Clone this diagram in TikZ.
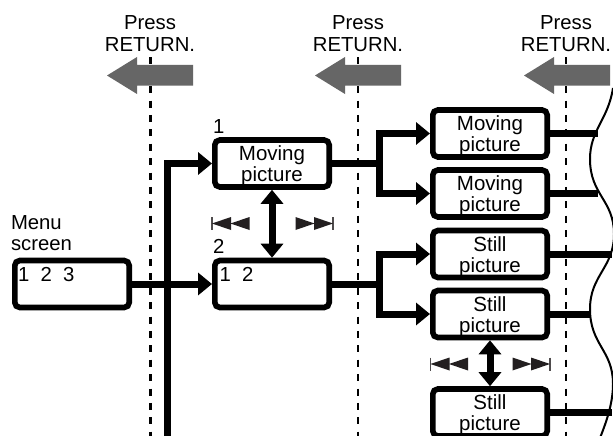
\documentclass[tikz,border=0pt]{standalone}
\usepackage{fontspec}
\setmainfont{Liberation Sans}
\usetikzlibrary{arrows.meta}
\definecolor{arrowgray}{HTML}{666666}
\definecolor{icondark}{HTML}{231F20}
\newcommand{\twolines}[2]{\rule{0pt}{20pt}#1\\[0.5pt]#2}
\tikzset{
  x=1pt,y=-1pt,
  txt/.style={font=\fontsize{20.3}{21.8}\selectfont,align=center,inner sep=0pt,outer sep=0pt},
  lbl/.style={font=\fontsize{20.3}{21.8}\selectfont,inner sep=0pt,outer sep=0pt,anchor=base west},
  screenbox/.style={draw=black,fill=white,line width=5.6pt,rounded corners=5pt,minimum width=114.4pt,minimum height=47pt,inner sep=0pt,font=\fontsize{20.5}{20.5}\selectfont,align=center},
  flow/.style={line width=7pt,-{Triangle[length=14pt,width=22pt]}},
  flowboth/.style={line width=7pt,{Triangle[length=14pt,width=22pt]}-{Triangle[length=14pt,width=22pt]}},
  plain/.style={line width=7pt},
  guide/.style={line width=2.6pt,dash pattern=on 7pt off 7.4pt},
  backarrow/.style={fill=arrowgray},
  wave/.style={line width=2pt},
  tri/.style={fill=icondark},
  iconbar/.style={draw=icondark!80,line width=1.2pt},
}
\newcommand{\backarrowat}[1]{%
  \fill[backarrow,shift={(#1,0)}] (107,75.5) -- (137,57) -- (137,65) -- (193,65) -- (193,85.5) -- (137,85.5) -- (137,94) -- cycle;}
\newcommand{\skipback}[2]{%
  \begin{scope}[shift={(#1,#2)}]
    \draw[iconbar] (0,-6.5) -- (0,6.5);
    \fill[tri] (0,0) -- (19,-6.5) -- (19,6.5) -- cycle;
    \fill[tri] (18.5,0) -- (37.5,-6.5) -- (37.5,6.5) -- cycle;
  \end{scope}}
\newcommand{\skipfwd}[2]{%
  \begin{scope}[shift={(#1,#2)}]
    \draw[iconbar] (0,-6.5) -- (0,6.5);
    \fill[tri] (0,0) -- (-19,-6.5) -- (-19,6.5) -- cycle;
    \fill[tri] (-18.5,0) -- (-37.5,-6.5) -- (-37.5,6.5) -- cycle;
  \end{scope}}
\begin{document}
\begin{tikzpicture}
\clip (0,0) rectangle (613,436);
\fill[white] (0,0) rectangle (613,436);

% dashed guides
\coordinate (g1t) at (150.5,57.3); \coordinate (g1b) at (150.5,440);
\coordinate (g2t) at (358,57.3);   \coordinate (g2b) at (358,440);
\coordinate (g3t) at (566,57.3);   \coordinate (g3b) at (566,440);
\draw[guide] (g1t) -- (g1b);
\draw[guide] (g2t) -- (g2b);
\draw[guide] (g3t) -- (g3b);

% grey arrows
\backarrowat{0}
\backarrowat{208}
\backarrowat{417}

% headings
\node[txt] (p1) at (150,33.3) {Press\\RETURN.};
\node[txt] (p2) at (358,33.3) {Press\\RETURN.};
\node[txt] (p3) at (566,33.3) {Press\\RETURN.};

% boxes
\node[screenbox] (menu) at (72,284) {};
\node[screenbox] (b1) at (272,163.5) {\twolines{Moving}{picture}};
\node[screenbox] (b2) at (272,284) {};
\node[screenbox] (m1) at (490,133.5) {\twolines{Moving}{picture}};
\node[screenbox] (m2) at (490,193.5) {\twolines{Moving}{picture}};
\node[screenbox] (s1) at (490,254) {\twolines{Still}{picture}};
\node[screenbox] (s2) at (490,314) {\twolines{Still}{picture}};
\node[screenbox] (s3) at (490,412.5) {\twolines{Still}{picture}};

% labels
\node[lbl] (menulabel) at (11,229) {Menu};
\node[lbl] (menulabelb) at (11,250) {screen};
\node[lbl] (menu123) at (18,281) {1\ \ 2\ \ 3};
\node[lbl] (b212) at (219.5,281) {1\ \ 2};
\node[lbl] (n1) at (213,133) {1};
\node[lbl] (n2) at (213,253.7) {2};

% wavy edge
\coordinate (w0) at (613,88);
\coordinate (w1) at (590,159);
\coordinate (w2) at (614,234);
\coordinate (w3) at (590,309);
\coordinate (w4) at (613,384);
\coordinate (w5) at (600,438);
\draw[wave] (w0) .. controls (608,120) and (590,130) .. (w1)
  .. controls (590,195) and (614,200) .. (w2)
  .. controls (614,268) and (590,275) .. (w3)
  .. controls (590,345) and (613,350) .. (w4)
  .. controls (613,405) and (605,425) .. (w5);

% flow from menu
\coordinate (spineb) at (167,440);
\draw[flow] (menu.east) -- (b2.west);
\draw[flow] (spineb) |- (b1.west);

% branches
\coordinate (j1) at (379,163.5);
\coordinate (j2) at (379,284);
\draw[plain] (b1.east) -- (j1);
\draw[plain] (b2.east) -- (j2);
\draw[flowboth] (m1.west) -| (j1) |- (m2.west);
\draw[flowboth] (s1.west) -| (j2) |- (s2.west);

% right-hand stubs
\coordinate (e1) at (598,133.5);
\coordinate (e2) at (598,193.5);
\coordinate (e3) at (612,254);
\coordinate (e4) at (590,314);
\coordinate (e5) at (612,412.5);
\draw[plain] (m1.east) -- (e1);
\draw[plain] (m2.east) -- (e2);
\draw[plain] (s1.east) -- (e3);
\draw[plain] (s2.east) -- (e4);
\draw[plain] (s3.east) -- (e5);

% up/down arrows
\draw[flowboth] (b1.south) -- (b2.north);
\draw[flowboth] (s2.south) -- (s3.north);

% skip icons
\skipback{212}{223.5}
\skipfwd{333}{223.5}
\skipback{430.5}{364}
\skipfwd{550}{364}
\end{tikzpicture}
\end{document}
